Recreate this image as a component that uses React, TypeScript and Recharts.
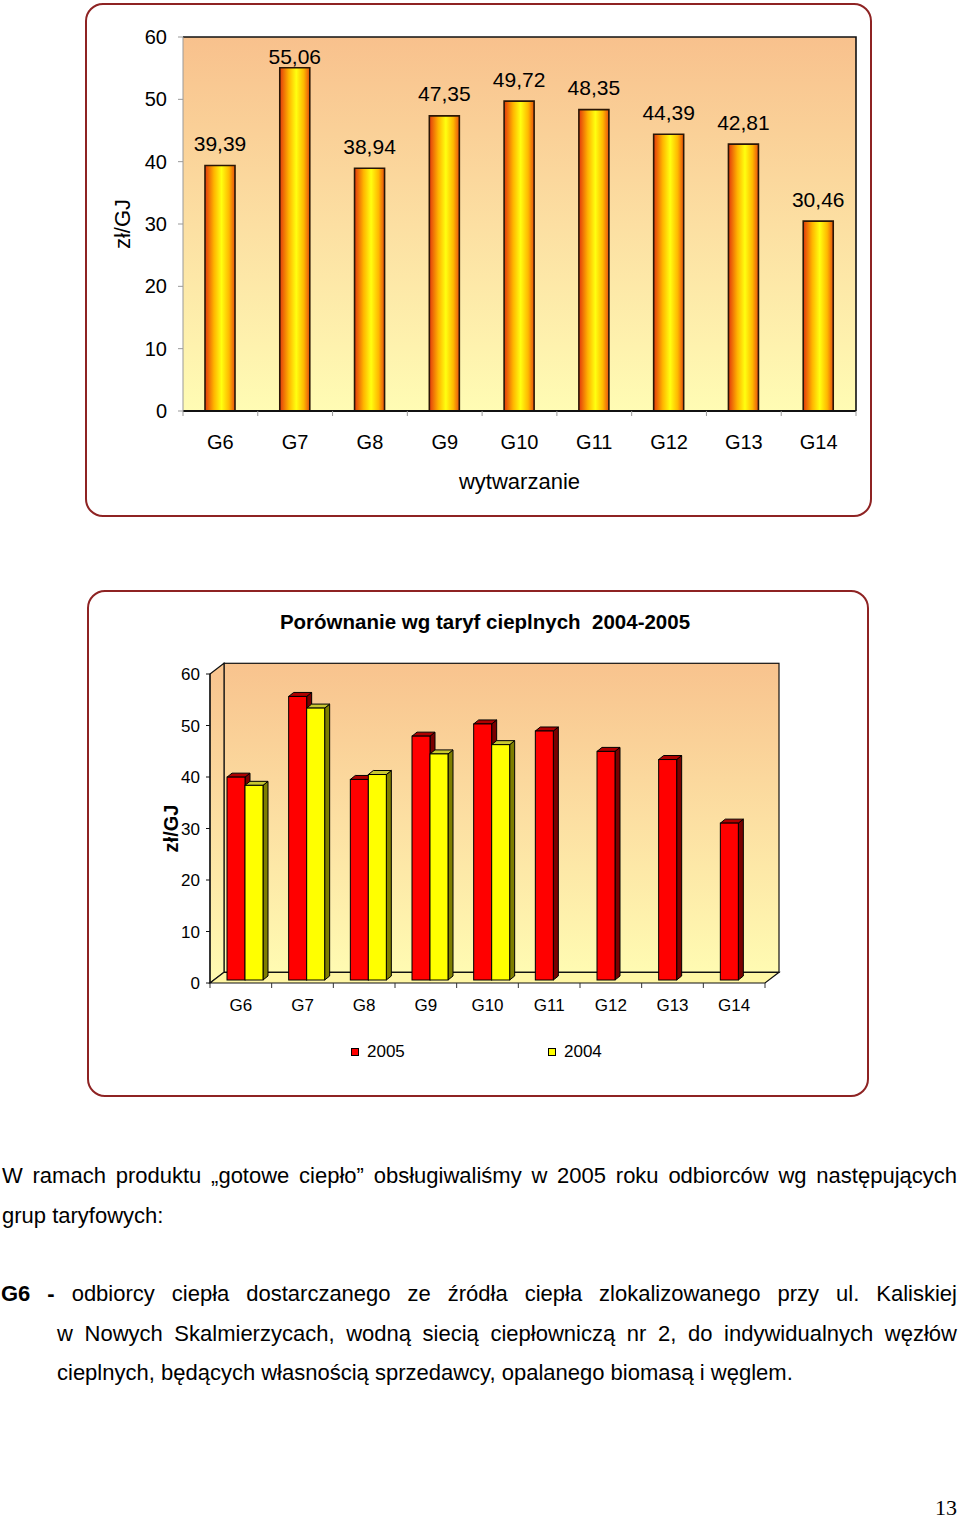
import React from 'react';
import {
  BarChart, Bar, XAxis, YAxis, CartesianGrid, LabelList, ReferenceArea, Legend, Label,
} from 'recharts';

const FONT = '"Liberation Sans", Arial, Helvetica, sans-serif';

const categories = ['G6', 'G7', 'G8', 'G9', 'G10', 'G11', 'G12', 'G13', 'G14'];
const prices2005 = [39.39, 55.06, 38.94, 47.35, 49.72, 48.35, 44.39, 42.81, 30.46];
const prices2004: (number | null)[] = [37.8, 52.8, 39.9, 43.9, 45.7, null, null, null, null];
const yTicks = [0, 10, 20, 30, 40, 50, 60];

const chart1Title = 'wytwarzanie';
const chart2Title = 'Porównanie wg taryf cieplnych  2004-2005';
const unitLabel = 'zł/GJ';
const seriesNames = ['2005', '2004'];

const data1 = categories.map((name, i) => ({ name, value: prices2005[i] }));
const data2 = categories.map((name, i) => ({ name, y2005: prices2005[i], y2004: prices2004[i] }));

const fmt = (v: any) => (typeof v === 'number' ? v.toFixed(2).replace('.', ',') : v);

const PLOT1_TOP = 32;

const ValueLabel = (props: any) => {
  const { x, y, width, value } = props;
  if (value == null) return null;
  const cy = Math.max(y - 22, PLOT1_TOP + 19);
  return (
    <text
      x={x + width / 2}
      y={cy}
      textAnchor="middle"
      dominantBaseline="central"
      fontSize={21}
      fontFamily={FONT}
      fill="#000"
    >
      {fmt(value)}
    </text>
  );
};

const makeXTick = (fontSize: number, textDy: number, tickLen: number, bandHalf: number, tickColor: string) =>
  (props: any) => {
    const { x, y, payload, index, visibleTicksCount } = props;
    const half = payload && typeof payload.offset === 'number' && payload.offset > 0 ? payload.offset : bandHalf;
    return (
      <g>
        <line x1={x - half} x2={x - half} y1={y} y2={y + tickLen} stroke={tickColor} strokeWidth={1} />
        {index === visibleTicksCount - 1 ? (
          <line x1={x + half} x2={x + half} y1={y} y2={y + tickLen} stroke={tickColor} strokeWidth={1} />
        ) : null}
        <text x={x} y={y + textDy} textAnchor="middle" fontSize={fontSize} fontFamily={FONT} fill="#000">
          {payload.value}
        </text>
      </g>
    );
  };

const makeYLabel = (dx: number, fontSize: number, bold: boolean) => (props: any) => {
  const vb = props.viewBox || {};
  const cx = (vb.x || 0) + dx;
  const cy = (vb.y || 0) + (vb.height || 0) / 2;
  return (
    <text
      x={cx}
      y={cy}
      transform={`rotate(-90 ${cx} ${cy})`}
      textAnchor="middle"
      dominantBaseline="central"
      fontSize={fontSize}
      fontFamily={FONT}
      fontWeight={bold ? 'bold' : 'normal'}
      fill="#000"
    >
      {unitLabel}
    </text>
  );
};

const makeXLabel = (dy: number, fontSize: number) => (props: any) => {
  const vb = props.viewBox || {};
  const cx = (vb.x || 0) + (vb.width || 0) / 2;
  return (
    <text x={cx} y={(vb.y || 0) + dy} textAnchor="middle" fontSize={fontSize} fontFamily={FONT} fill="#000">
      {chart1Title}
    </text>
  );
};

const FrameShape = (props: any) => {
  const { x, y, width, height } = props;
  return (
    <path
      d={`M${x},${y} L${x + width},${y} L${x + width},${y + height}`}
      fill="none"
      stroke="#111"
      strokeWidth={1.6}
    />
  );
};

const DEPTH_X = 14;
const DEPTH_Y = 10.7;

const WallsShape = (props: any) => {
  const { x, y, width, height } = props;
  const b = y + height;
  return (
    <g>
      <rect x={x + DEPTH_X} y={y - DEPTH_Y} width={width} height={height} fill="url(#bg2)" stroke="#111" strokeWidth={1.2} />
      <polygon
        points={`${x},${y} ${x + DEPTH_X},${y - DEPTH_Y} ${x + DEPTH_X},${b - DEPTH_Y} ${x},${b}`}
        fill="url(#bg2)"
        stroke="#111"
        strokeWidth={1.2}
      />
      <polygon
        points={`${x},${b} ${x + DEPTH_X},${b - DEPTH_Y} ${x + width + DEPTH_X},${b - DEPTH_Y} ${x + width},${b}`}
        fill="#FFF6A4"
        stroke="#111"
        strokeWidth={1.2}
      />
    </g>
  );
};

const makeBar3D = (front: string, top: string, side: string) => (props: any) => {
  const { x, y, width, height, value } = props;
  if (value == null || height == null || isNaN(height) || !width) return null;
  const sx = 4;
  const sy = -3;
  const d = 5;
  const dv = 4;
  const X = x + sx;
  const Y = y + sy;
  const W = width;
  const H = height;
  return (
    <g>
      <polygon
        points={`${X + W},${Y} ${X + W + d},${Y - dv} ${X + W + d},${Y + H - dv} ${X + W},${Y + H}`}
        fill={side}
        stroke="#000"
        strokeWidth={1}
        strokeLinejoin="round"
      />
      <polygon
        points={`${X},${Y} ${X + d},${Y - dv} ${X + W + d},${Y - dv} ${X + W},${Y}`}
        fill={top}
        stroke="#000"
        strokeWidth={1}
        strokeLinejoin="round"
      />
      <rect x={X} y={Y} width={W} height={H} fill={front} stroke="#000" strokeWidth={1} />
    </g>
  );
};

const Legend2 = () => (
  <div style={{ position: 'relative', width: 778, height: 24, fontFamily: FONT, fontSize: 17, color: '#000' }}>
    <span style={{ position: 'absolute', left: 262, top: 8, width: 6, height: 6, background: '#FF0000', border: '1px solid #000' }} />
    <span style={{ position: 'absolute', left: 278, top: 0, lineHeight: '24px' }}>{seriesNames[0]}</span>
    <span style={{ position: 'absolute', left: 459, top: 8, width: 6, height: 6, background: '#FFFF00', border: '1px solid #000' }} />
    <span style={{ position: 'absolute', left: 475, top: 0, lineHeight: '24px' }}>{seriesNames[1]}</span>
  </div>
);

const boxStyle = (left: number, top: number, width: number, height: number): React.CSSProperties => ({
  position: 'absolute',
  left,
  top,
  width,
  height,
  boxSizing: 'border-box',
  border: '2px solid #8E2323',
  borderRadius: 18,
  background: '#fff',
});

const textLine = (top: number, left: number, width: number, justify: boolean): React.CSSProperties => ({
  position: 'absolute',
  top,
  left,
  width,
  fontFamily: FONT,
  fontSize: 22,
  lineHeight: '22px',
  color: '#000',
  textAlign: justify ? 'justify' : 'left',
  textAlignLast: justify ? 'justify' : 'left',
});

export default function App() {
  return (
    <div style={{ position: 'absolute', left: 0, top: 0, width: 960, height: 1521, background: '#fff' }}>
      {/* Chart 1 */}
      <div style={boxStyle(85, 3, 787, 514)}>
        <BarChart width={783} height={510} data={data1} margin={{ top: PLOT1_TOP, right: 14, left: 0, bottom: 0 }}>
          <defs>
            <linearGradient id="bg1" x1="0" y1="0" x2="0" y2="1">
              <stop offset="0" stopColor="#F8C18D" />
              <stop offset="0.5" stopColor="#FCDFA2" />
              <stop offset="1" stopColor="#FFFCB4" />
            </linearGradient>
            <linearGradient id="barGrad" x1="0" y1="0" x2="1" y2="0">
              <stop offset="0" stopColor="#E2380C" />
              <stop offset="0.3" stopColor="#FFB400" />
              <stop offset="0.55" stopColor="#FFFF10" />
              <stop offset="0.8" stopColor="#FFB800" />
              <stop offset="1" stopColor="#E8500E" />
            </linearGradient>
          </defs>
          <CartesianGrid fill="url(#bg1)" horizontal={false} vertical={false} stroke="none" />
          <XAxis
            dataKey="name"
            height={104}
            tickSize={0}
            tickMargin={0}
            tickLine={false}
            axisLine={{ stroke: '#111', strokeWidth: 2 }}
            interval={0}
            tick={makeXTick(20, 38, 5, 37.4, '#999')}
          >
            <Label content={makeXLabel(78, 22)} />
          </XAxis>
          <YAxis
            width={96}
            domain={[0, 60]}
            ticks={yTicks}
            interval={0}
            tickSize={5}
            tickMargin={11}
            axisLine={{ stroke: '#999', strokeWidth: 1 }}
            tickLine={{ stroke: '#999' }}
            tick={{ fontSize: 20, fontFamily: FONT, fill: '#000' }}
          >
            <Label content={makeYLabel(35, 22, false)} />
          </YAxis>
          <ReferenceArea y1={0} y2={60} shape={FrameShape} ifOverflow="visible" />
          <Bar dataKey="value" barSize={30} fill="url(#barGrad)" stroke="#2A1606" strokeWidth={1.6} isAnimationActive={false}>
            <LabelList dataKey="value" content={ValueLabel} />
          </Bar>
        </BarChart>
      </div>

      {/* Chart 2 */}
      <div style={boxStyle(87, 590, 782, 507)}>
        <div
          style={{
            position: 'absolute',
            left: 0,
            top: 18,
            width: 792,
            textAlign: 'center',
            fontFamily: FONT,
            fontWeight: 'bold',
            fontSize: 20.5,
            lineHeight: '24px',
            whiteSpace: 'pre',
            color: '#000',
          }}
        >
          {chart2Title}
        </div>
        <BarChart width={778} height={503} data={data2} margin={{ top: 82, right: 102, left: 0, bottom: 0 }} barGap={0}>
          <defs>
            <linearGradient id="bg2" x1="0" y1="0" x2="0" y2="1">
              <stop offset="0" stopColor="#F8C38E" />
              <stop offset="0.5" stopColor="#FCDFA2" />
              <stop offset="1" stopColor="#FFFBB2" />
            </linearGradient>
          </defs>
          <ReferenceArea y1={0} y2={60} shape={WallsShape} ifOverflow="visible" zIndex={-10} />
          <XAxis
            dataKey="name"
            height={112}
            tickSize={0}
            tickMargin={0}
            tickLine={false}
            axisLine={false}
            interval={0}
            tick={makeXTick(17, 27.5, 5, 30.8, '#333')}
          />
          <YAxis
            width={121}
            domain={[0, 60]}
            ticks={yTicks}
            interval={0}
            tickSize={4}
            tickMargin={6}
            axisLine={{ stroke: '#111', strokeWidth: 1.2 }}
            tickLine={{ stroke: '#111' }}
            tick={{ fontSize: 17, fontFamily: FONT, fill: '#000' }}
          >
            <Label content={makeYLabel(82, 20, true)} />
          </YAxis>
          <Legend
            layout="horizontal"
            verticalAlign="middle"
            align="center"
            wrapperStyle={{ left: 0, top: 448, width: 778, height: 24 }}
            content={Legend2}
          />
          <Bar dataKey="y2005" name={seriesNames[0]} barSize={18} fill="#FF0000" isAnimationActive={false}
            shape={makeBar3D('#FF0000', '#B00000', '#7A0000')} />
          <Bar dataKey="y2004" name={seriesNames[1]} barSize={18} fill="#FFFF00" isAnimationActive={false}
            shape={makeBar3D('#FFFF00', '#C8C830', '#7E7E00')} />
        </BarChart>
      </div>

      {/* Body text */}
      <div style={textLine(1165, 2, 955, true)}>
        W ramach produktu „gotowe ciepło” obsługiwaliśmy w 2005 roku odbiorców wg następujących
      </div>
      <div style={textLine(1205, 2, 955, false)}>grup taryfowych:</div>
      <div style={textLine(1283, 1, 956, true)}>
        <b>G6</b> <b>-</b> odbiorcy ciepła dostarczanego ze źródła ciepła zlokalizowanego przy ul. Kaliskiej
      </div>
      <div style={textLine(1323, 57, 900, true)}>
        w Nowych Skalmierzycach, wodną siecią ciepłowniczą nr 2, do indywidualnych węzłów
      </div>
      <div style={textLine(1362, 57, 900, false)}>
        cieplnych, będących własnością sprzedawcy, opalanego biomasą i węglem.
      </div>
      <div
        style={{
          position: 'absolute',
          left: 935,
          top: 1497,
          fontFamily: '"Liberation Serif", "Times New Roman", serif',
          fontSize: 22,
          lineHeight: '22px',
          color: '#000',
        }}
      >
        13
      </div>
    </div>
  );
}
